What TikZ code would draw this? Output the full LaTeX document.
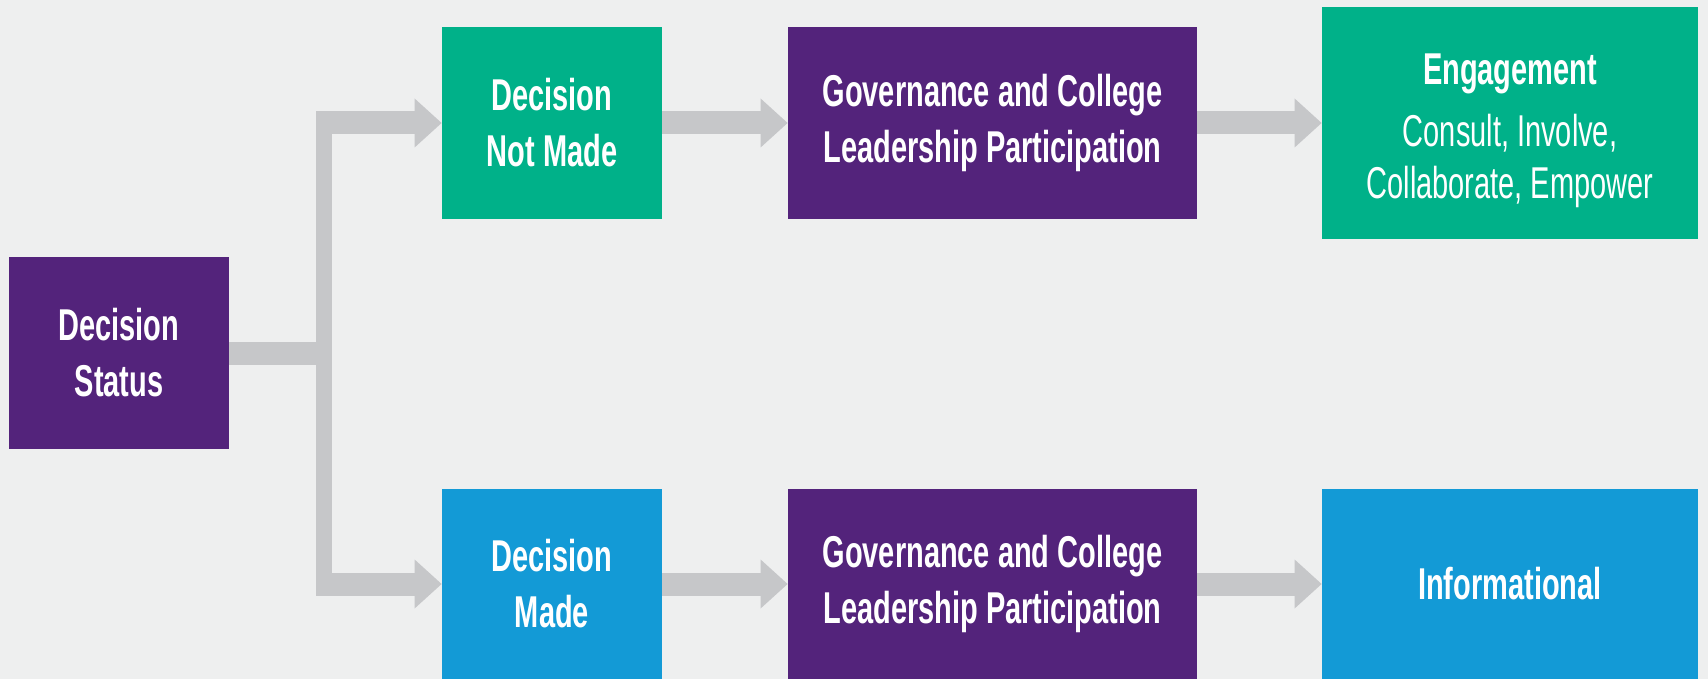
\documentclass[tikz,border=0pt]{standalone}
\usepackage{fontspec}
\setmainfont[FakeStretch=0.65]{Liberation Sans}
\usetikzlibrary{arrows.meta}
\definecolor{dpurple}{RGB}{83,35,123}
\definecolor{dgreen}{RGB}{0,177,137}
\definecolor{dblue}{RGB}{19,154,214}
\definecolor{dgrey}{RGB}{198,199,201}
\definecolor{bgrey}{RGB}{238,239,239}

\begin{document}
\begin{tikzpicture}[x=0.5pt,y=-0.5pt,
  box/.style={inner sep=0pt, minimum width=110pt, minimum height=96pt, align=center,
    text=white, font=\fontsize{22.3}{28}\selectfont\bfseries},
  link/.style={draw=dgrey, line width=11.5pt},
  flow/.style={link, -{Triangle[length=13.5pt,width=24.5pt,line width=0pt]}},
  bar/.style={draw=dgrey, line width=8pt, shorten <=-5.75pt, shorten >=-5.75pt}]
\path[use as bounding box, fill=bgrey] (0,0) rectangle (1708,679);

\node[box, fill=dpurple] (status) at (119,353) {Decision\\Status};
\node[box, fill=dgreen] (notmade) at (552,123) {Decision\\Not Made};
\node[box, fill=dpurple, minimum width=204.5pt] (govtop) at (992.5,123) {Governance and College\\Leadership Participation};
\node[box, fill=dgreen, minimum width=188pt, minimum height=116pt,
  font=\fontsize{22.3}{26}\selectfont\bfseries] (engage) at (1510,123)
  {\rule{0pt}{23pt}Engagement\\[5pt]\mdseries Consult, Involve,\\\mdseries Collaborate, Empower};
\node[box, fill=dblue, minimum height=95pt] (made) at (552,584) {Decision\\Made};
\node[box, fill=dpurple, minimum width=204.5pt, minimum height=95pt] (govbot) at (992.5,584) {Governance and College\\Leadership Participation};
\node[box, fill=dblue, minimum width=188pt, minimum height=95pt] (inform) at (1510,584) {Informational};

\coordinate (fork) at (324,353); % split point
\draw[link] (status.east) -- (fork);
\draw[bar] (fork |- notmade.west) -- (fork |- made.west);
\draw[flow] (fork |- notmade.west) -- (notmade.west);
\draw[flow] (fork |- made.west) -- (made.west);

\draw[flow] (notmade.east) -- (govtop.west);
\draw[flow] (govtop.east) -- (engage.west);
\draw[flow] (made.east) -- (govbot.west);
\draw[flow] (govbot.east) -- (inform.west);
\end{tikzpicture}
\end{document}
